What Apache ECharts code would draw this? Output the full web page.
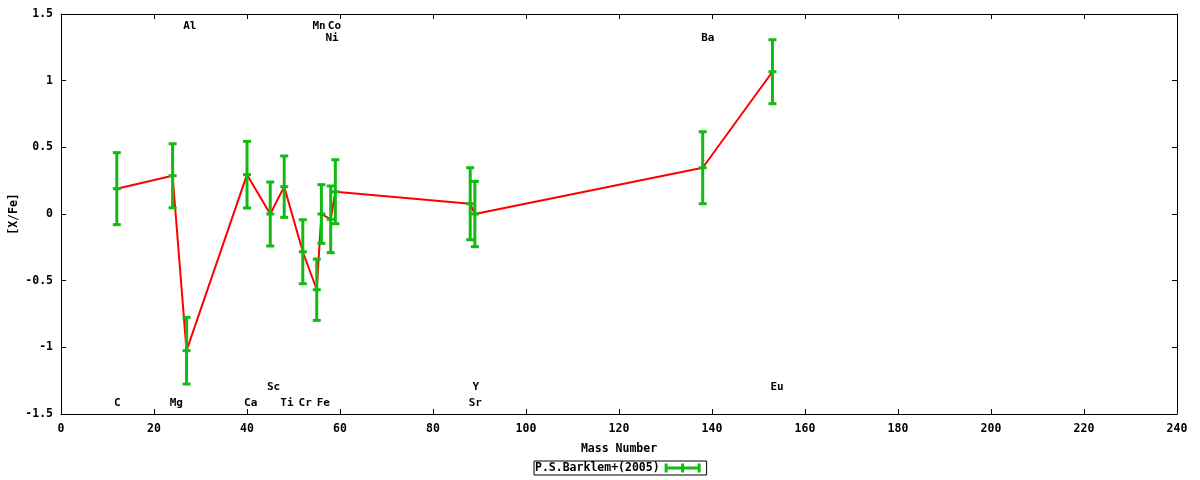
<!DOCTYPE html>
<html>
<head>
<meta charset="utf-8">
<script src="https://cdn.jsdelivr.net/npm/echarts@6/dist/echarts.min.js"></script>
<style>html,body{margin:0;padding:0;background:#fff}#c{width:1200px;height:480px}</style>
</head>
<body>
<div id="c"></div>
<script>
// Data
const elements = ['C','Mg','Al','Ca','Sc','Ti','Cr','Mn','Fe','Ni','Co','Sr','Y','Ba','Eu'];
const mass     = [12, 24, 27, 40, 45, 48, 52, 55, 56, 58, 59, 88, 89, 138, 153];
const xfe      = [0.19, 0.287, -1.025, 0.295, 0.0, 0.205, -0.283, -0.568, 0.0, -0.04, 0.167, 0.077, 0.0, 0.347, 1.067];
const xfeErr   = [0.27, 0.24, 0.25, 0.25, 0.24, 0.23, 0.24, 0.23, 0.22, 0.25, 0.24, 0.27, 0.245, 0.27, 0.24];
// element name labels (text positions in data coordinates)
const labelText = ['C','Mg','Al','Ca','Sc','Ti','Cr','Mn','Fe','Ni','Co','Sr','Y','Ba','Eu'];
const labelX    = [12.1, 24.8, 27.7, 40.8, 45.7, 48.6, 52.5, 55.5, 56.4, 58.3, 58.8, 89.1, 89.2, 139.1, 154.0];
const labelY    = [-1.42, -1.42, 1.41, -1.42, -1.30, -1.42, -1.42, 1.41, -1.42, 1.32, 1.41, -1.42, -1.30, 1.32, -1.30];
const xTicks = {min: 0, max: 240, interval: 20};
const yTicks = {min: -1.5, max: 1.5, interval: 0.5};
const seriesName = 'P.S.Barklem+(2005)';

const GREEN = '#11bb11';
const FONT = 'DejaVu Sans Mono';
const txt = {fontFamily: FONT, fontWeight: 'bold', fontSize: 11.5, color: '#000'};

const chart = echarts.init(document.getElementById('c'), null, {renderer: 'canvas'});

function renderErr(params, api) {
  const x = api.value(0), y = api.value(1), e = api.value(2);
  const t = api.coord([x, y + e]), b = api.coord([x, y - e]), m = api.coord([x, y]);
  const st = {fill: GREEN};
  const cw = 8, ch = 3, lw = 3;
  return {type: 'group', children: [
    {type: 'rect', shape: {x: m[0] - lw / 2, y: t[1], width: lw, height: b[1] - t[1]}, style: st},
    {type: 'rect', shape: {x: m[0] - cw / 2, y: t[1] - ch / 2, width: cw, height: ch}, style: st},
    {type: 'rect', shape: {x: m[0] - cw / 2, y: b[1] - ch / 2, width: cw, height: ch}, style: st},
    {type: 'rect', shape: {x: m[0] - cw / 2, y: m[1] - ch / 2, width: cw, height: ch}, style: st}
  ]};
}

function renderLabel(params, api) {
  const p = api.coord([api.value(0), api.value(1)]);
  return {type: 'text', x: p[0], y: p[1], style: {
    text: labelText[params.dataIndex], fill: '#000',
    font: 'bold 11px "' + FONT + '"', align: 'center', verticalAlign: 'middle'
  }};
}

const axisCommon = {
  axisLine: {show: true, onZero: false, lineStyle: {color: '#000', width: 1}},
  axisTick: {show: true, inside: true, length: 5, lineStyle: {color: '#000'}},
  splitLine: {show: false}
};

const option = {
  animation: false,
  backgroundColor: '#fff',
  grid: {left: 61, right: 23, top: 14, bottom: 66, containLabel: false, outerBoundsMode: 'none'},
  xAxis: [
    Object.assign({type: 'value', position: 'bottom', min: xTicks.min, max: xTicks.max, interval: xTicks.interval,
      name: 'Mass Number', nameLocation: 'middle', nameGap: 29, nameTextStyle: txt, nameMoveOverlap: false,
      axisLabel: Object.assign({margin: 9}, txt)}, axisCommon),
    Object.assign({type: 'value', position: 'top', min: xTicks.min, max: xTicks.max, interval: xTicks.interval,
      axisLabel: {show: false}}, axisCommon)
  ],
  yAxis: [
    Object.assign({type: 'value', position: 'left', min: yTicks.min, max: yTicks.max, interval: yTicks.interval,
      name: '[X/Fe]', nameLocation: 'middle', nameGap: 41, nameTextStyle: txt, nameMoveOverlap: false,
      axisLabel: Object.assign({margin: 8}, txt)}, axisCommon),
    Object.assign({type: 'value', position: 'right', min: yTicks.min, max: yTicks.max, interval: yTicks.interval,
      axisLabel: {show: false}}, axisCommon)
  ],
  legend: {
    data: [seriesName],
    left: 534, top: 461,
    orient: 'horizontal',
    align: 'right',
    padding: [1, 6, 1, 1],
    borderColor: '#000', borderWidth: 1, borderRadius: 0,
    itemWidth: 36, itemHeight: 9,
    icon: 'path://M0,3H36V6H0Z M0,0H3V9H0Z M33,0H36V9H33Z M16.5,0H19.5V9H16.5Z',
    textStyle: txt,
    selectedMode: false
  },
  series: [
    {
      type: 'line', name: 'line', silent: true, z: 2,
      data: mass.map((m, i) => [m, xfe[i]]),
      showSymbol: false, symbol: 'none',
      lineStyle: {color: '#ff0000', width: 2}
    },
    {
      type: 'custom', name: seriesName, z: 3, silent: true,
      itemStyle: {color: GREEN},
      renderItem: renderErr,
      encode: {x: 0, y: 1},
      data: mass.map((m, i) => [m, xfe[i], xfeErr[i]])
    },
    {
      type: 'custom', name: 'labels', z: 4, silent: true,
      renderItem: renderLabel,
      encode: {x: 0, y: 1},
      data: labelX.map((x, i) => [x, labelY[i]])
    }
  ]
};
chart.setOption(option);
</script>
</body>
</html>
